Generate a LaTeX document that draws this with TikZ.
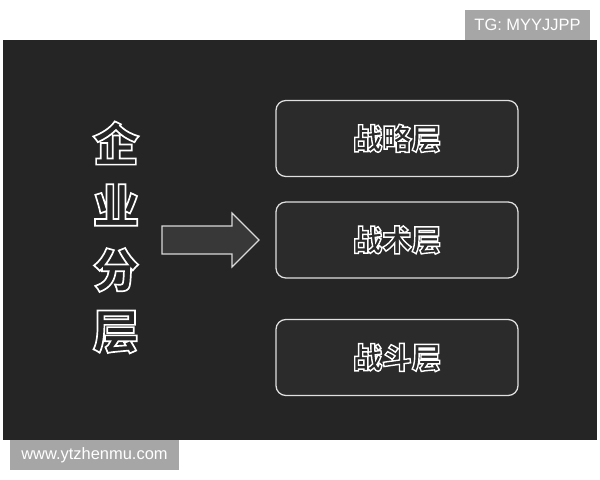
\documentclass[tikz,border=0pt]{standalone}
\usepackage{fontspec}
\setmainfont{Liberation Sans}
\newfontfamily\cjk{Noto Sans CJK SC}
\usetikzlibrary{arrows.meta,positioning}
\definecolor{panel}{HTML}{252525}
\definecolor{boxfill}{HTML}{2B2B2B}
\definecolor{tag}{HTML}{A6A6A6}
% stroked (hollow) glyphs
\newcommand{\hollow}[2]{\special{pdf:literal direct 1 Tr #1 w}\textcolor{white}{#2}\special{pdf:literal direct 0 Tr 0.4 w}}
\begin{document}
\begin{tikzpicture}[x=0.025cm,y=-0.025cm]
      \useasboundingbox (0,0) rectangle (600,480);
      \fill[white] (0,0) rectangle (600,480);
      \fill[panel] (3,40) rectangle (597,440);
      \begin{scope}[every node/.style={fill= tag,text= white,inner sep=0pt,font=\fontsize{11.7}{13}\selectfont}]
        \node[minimum width=125*0.025cm,minimum height=30*0.025cm] (tg) at (527.5,25) {TG: MYYJJPP};
        \node[minimum width=169*0.025cm,minimum height=30*0.025cm] (web) at (94.5,455) {www.ytzhenmu.com};
      \end{scope}
      \begin{scope}[every node/.style={inner sep=0pt,font=\cjk\bfseries\fontsize{33}{33}\selectfont}]
        \node (A) at (116,143) {\hollow{1.2}{企}};
        \node (B) at (116,205) {\hollow{1.2}{业}};
        \node (C) at (116,270) {\hollow{1.2}{分}};
        \node (D) at (116,332) {\hollow{1.2}{层}};
      \end{scope}
      \begin{scope}[every node/.style={draw= white!88!black,line width=0.9pt,fill= boxfill,rounded corners=7pt,
          minimum width=242*0.025cm,minimum height=76*0.025cm,font=\cjk\bfseries\fontsize{21}{21}\selectfont}]
        \node (S1) at (397,138.5) {\hollow{1}{战略层}};
        \node (S2) at (397,240) {\hollow{1}{战术层}};
        \node (S3) at (397,357.5) {\hollow{1}{战斗层}};
      \end{scope}
      \coordinate (tail) at (162,240);
      \coordinate (tip) at (259,240);
      \draw[white!85!black,line width=0.8pt,fill= white!22!black]
        ([yshift=14*0.025cm]tail) -- ++(70,0) -- ++(0,-13) -- (tip) -- ++(-27,27) -- ++(0,-13) -- ([yshift=-14*0.025cm]tail) -- cycle;
    \end{tikzpicture}
\end{document}
